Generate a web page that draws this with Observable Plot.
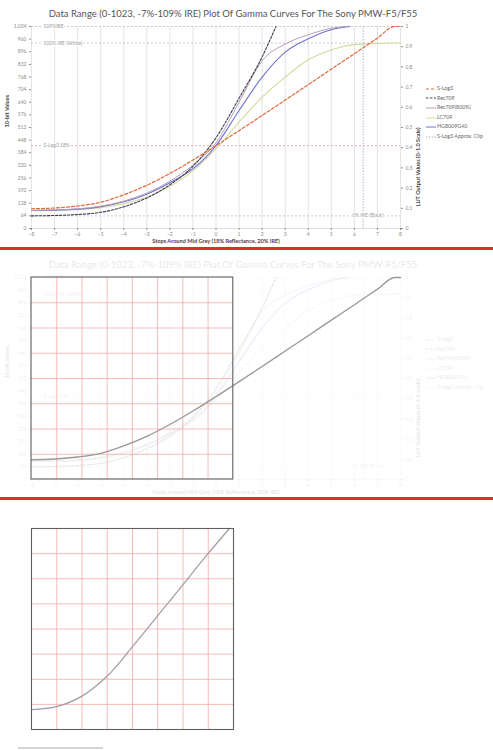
<!DOCTYPE html>
<html><head><meta charset="utf-8">
<script src="https://cdn.jsdelivr.net/npm/d3@7"></script>
<script src="https://cdn.jsdelivr.net/npm/@observablehq/plot@0.6"></script>
<style>
body{margin:0;background:#fff;width:493px;height:750px;overflow:hidden;position:relative;font-family:Lato,"DejaVu Sans",sans-serif}
.abs{position:absolute;left:0;width:493px}
.abs svg{max-width:none !important;display:block}
.sep{position:absolute;left:0;width:493px;height:3px;background:#e22a2a}
.legend{position:absolute;left:426px;top:84px;width:70px;font-size:5.3px;color:#666;line-height:9.6px}
.legend div{display:flex;align-items:center;height:9.6px;white-space:nowrap}
.legend svg{margin-right:1px;display:inline-block}
</style></head><body>
<div class="abs" style="top:0;height:1px;background:#cfcfcf"></div>
<div id="p1" class="abs" style="top:0;height:245px"></div>
<div class="sep" style="top:247px"></div>
<div id="p2" class="abs" style="top:251px;height:245px"></div>
<div class="sep" style="top:497px"></div>
<div id="p3" class="abs" style="top:500px;height:250px"></div>
<div style="position:absolute;top:747px;left:18px;width:85px;height:1.5px;background:#d4d4d4"></div>
<script>
// ---- text ----
const title = "Data Range (0-1023, -7%-109% IRE) Plot Of Gamma Curves For The Sony PMW-F5/F55";
const xLabel = "Stops Around Mid Grey (18% Reflectance, 20% IRE)";
const leftLabel = "10-bit Values";
const rightLabel = "LUT Output Values (0-1.0 Scale)";

// ---- ticks ----
const xTicks = [-8,-7,-6,-5,-4,-3,-2,-1,0,1,2,3,4,5,6,7,8];
const yTicks = [0,64,128,192,256,320,384,448,512,576,640,704,768,832,896,960,1024];
const rightTicks = [0,0.1,0.2,0.3,0.4,0.5,0.6,0.7,0.8,0.9,1];
const yMax = 1024;

// ---- series (stops around mid grey -> 10-bit code value) ----
const slog3Stops = [-8,-7,-6,-5,-4,-3,-2,-1,0,1,2,3,4,5,6,7,7.75,8];
const slog3Vals  = [100,104,114,133,171,219,279,347,420,496,573,651,729,808,886,965,1024,1024];

const rec709Stops = [-8,-7,-6,-5,-4,-3,-2,-1,0,1,2,2.6];
const rec709Vals  = [64,66,71,82,110,155,222,315,460,660,870,1024];

const rec709_800Stops = [-8,-7,-6,-5,-4,-3,-2,-1,0,1,2,3,4,5,5.6];
const rec709_800Vals  = [92,94,100,113,139,180,240,322,435,640,850,935,982,1015,1024];

const lc709Stops = [-8,-7,-6,-5,-4,-3,-2,-1,0,1,2,3,4,5,6,7,8];
const lc709Vals  = [90,92,96,106,126,158,214,292,405,539,666,767,855,905,932,938,940];

const hgStops = [-8,-7,-6,-5,-4,-3,-2,-1,0,1,2,3,4,5,5.8];
const hgVals  = [91,93,98,111,136,174,232,302,420,598,767,894,962,1008,1024];

const clipStop = 6.38;

const seriesNames  = ["S-Log3","Rec709","Rec709(800%)","LC709","HG8009G40","S-Log3 Approx. Clip"];
const seriesColors = ["#e2683c","#3a3e4c","#b79db8","#d2db9c","#6e72d2","#9fb1c8"];
const seriesDash   = ["3,2","2.4,1.6",null,null,null,"1.4,1.4"];

// ---- reference lines ----
const refValues = [1024,940,420,64];
const refLabels = ["109%IRE","100% IRE (White)","S-Log3 18%","0% IRE (Black)"];
const refColors = ["#c4c4c4","#c4c4c4","#eaa5a5","#c4c4c4"];
const refSide   = ["left","left","left","right"];

// ---- overlay box (panel 2) and LUT curve (panel 3) ----
const boxStops = [-8, 0.75];
const boxDivisions = 8;
const lutX = [0,0.125,0.25,0.375,0.5,0.625,0.75,0.875,0.98];
const lutY = [0.099,0.114,0.166,0.266,0.412,0.566,0.721,0.876,1.0];

const zip = (xs, ys) => xs.map((x,i) => ({x, y: ys[i]}));
const series = [
  zip(slog3Stops, slog3Vals),
  zip(rec709Stops, rec709Vals),
  zip(rec709_800Stops, rec709_800Vals),
  zip(lc709Stops, lc709Vals),
  zip(hgStops, hgVals)
];
const widths = [1.2,1.1,1,1.1,1.1];
const refs = refValues.map((v,i) => ({v, label: refLabels[i], color: refColors[i], side: refSide[i]}));

const W = 493, H = 245;
const base = {
  width: W, height: H,
  marginLeft: 31, marginRight: 93, marginTop: 26, marginBottom: 17,
  x: {domain: [xTicks[0], xTicks[xTicks.length-1]]},
  y: {domain: [0, yMax]},
  style: {fontFamily: "Lato, 'DejaVu Sans', sans-serif", fontSize: "5px", background: "white", overflow: "visible"}
};

function mainChart() {
  const marks = [
    Plot.ruleX(xTicks, {stroke: "#dcdcdc", strokeWidth: 0.8}),
    Plot.ruleY([0], {stroke: "#d6d6d6", strokeWidth: 0.8}),
    Plot.ruleY(refs, {y: "v", stroke: "color", strokeDasharray: "2,2", strokeWidth: 0.9}),
    Plot.ruleX([clipStop], {y1: 0, y2: yMax, stroke: seriesColors[5], strokeDasharray: seriesDash[5], strokeWidth: 1}),
    ...[3,4,2,1,0].map(k => Plot.line(series[k], {x: "x", y: "y", curve: "monotone-x",
        stroke: seriesColors[k], strokeWidth: widths[k], strokeDasharray: seriesDash[k]})),
    Plot.text(refs.filter(d => d.side === "left"), {y: "v", text: "label", frameAnchor: "left", dx: 12,
        textAnchor: "start", fill: "#999", stroke: "white", strokeWidth: 2.5, fontSize: 5}),
    Plot.text(refs.filter(d => d.side === "right"), {y: "v", text: "label", frameAnchor: "right", dx: -17,
        textAnchor: "end", fill: "#999", stroke: "white", strokeWidth: 2.5, fontSize: 5}),
    Plot.axisY({ticks: yTicks, anchor: "left", tickSize: 2, tickPadding: 3, fontSize: 5, color: "#8c8c8c", label: null}),
    Plot.axisY({ticks: rightTicks.map(v => v*yMax), anchor: "right", tickSize: 2, tickPadding: 3, fontSize: 5,
        color: "#8c8c8c", label: null, tickFormat: d => d3.format(".1~f")(d / yMax)}),
    Plot.axisX({ticks: xTicks, tickSize: 2, tickPadding: 2, fontSize: 5, color: "#8c8c8c", label: null}),
    Plot.text([title], {frameAnchor: "top", dy: -16, dx: 17, fontSize: 9.5, fill: "#555"}),
    Plot.text([xLabel], {frameAnchor: "bottom", dy: 14, fontSize: 5.6, fontWeight: "bold", fill: "#444"}),
    Plot.text([leftLabel], {frameAnchor: "left", dx: -24, rotate: -90, fontSize: 5.6, fontWeight: "bold", fill: "#444"}),
    Plot.text([rightLabel], {frameAnchor: "right", dx: 18, rotate: -90, fontSize: 5.6, fontWeight: "bold", fill: "#444"})
  ];
  const svg = Plot.plot({...base, marks});
  svg.style.maxWidth = "none";
  return svg;
}

function legend() {
  const el = document.createElement("div");
  el.className = "legend";
  seriesNames.forEach((name, i) => {
    const row = document.createElement("div");
    row.innerHTML = `<svg width="10" height="4"><line x1="0" x2="10" y1="2" y2="2" stroke="${seriesColors[i]}" stroke-width="1" ${seriesDash[i] ? `stroke-dasharray="${seriesDash[i]}"` : ""}/></svg><span>${name}</span>`;
    el.appendChild(row);
  });
  return el;
}

// Panel 1
const p1 = document.getElementById("p1");
p1.appendChild(mainChart());
p1.appendChild(legend());

// Panel 2: faded chart + overlay
const p2 = document.getElementById("p2");
const faded = document.createElement("div");
faded.style.cssText = "position:absolute;left:0;top:0;width:493px;height:245px;opacity:0.13";
faded.appendChild(mainChart());
faded.appendChild(legend());
p2.appendChild(faded);

const gx = d3.range(1, boxDivisions).map(k => boxStops[0] + (boxStops[1]-boxStops[0]) * k / boxDivisions);
const gy = d3.range(1, boxDivisions).map(k => yMax * k / boxDivisions);
const overlay = Plot.plot({...base, style: {...base.style, background: "transparent"},
  x: {...base.x, axis: null}, y: {...base.y, axis: null},
  marks: [
    Plot.ruleX(gx, {y1: 0, y2: yMax, stroke: "#f2a9a9", strokeWidth: 0.8}),
    Plot.ruleY(gy, {x1: boxStops[0], x2: boxStops[1], stroke: "#f2a9a9", strokeWidth: 0.8}),
    Plot.line(series[0], {x: "x", y: "y", curve: "monotone-x", stroke: "#9a9a9a", strokeWidth: 1.3}),
    Plot.rect([{x1: boxStops[0], x2: boxStops[1], y1: 0, y2: yMax}], {x1: "x1", x2: "x2", y1: "y1", y2: "y2",
      fill: "none", stroke: "#606060", strokeWidth: 1.1})
  ]});
overlay.style.cssText += ";position:absolute;left:0;top:0;max-width:none";
p2.appendChild(overlay);

// Panel 3: LUT space
const frac = d3.range(1, boxDivisions).map(k => k / boxDivisions);
const p3 = Plot.plot({
  width: W, height: 250, marginLeft: 31, marginRight: 260, marginTop: 28, marginBottom: 21,
  x: {domain: [0, 1], axis: null}, y: {domain: [0, 1], axis: null},
  style: {background: "white"},
  marks: [
    Plot.ruleX(frac, {stroke: "#f2a9a9", strokeWidth: 0.8}),
    Plot.ruleY(frac, {stroke: "#f2a9a9", strokeWidth: 0.8}),
    Plot.line(zip(lutX, lutY), {x: "x", y: "y", curve: "catmull-rom", stroke: "#a09ca2", strokeWidth: 1.2}),
    Plot.frame({stroke: "#606060", strokeWidth: 1.1})
  ]
});
p3.style.maxWidth = "none";
document.getElementById("p3").appendChild(p3);
</script>
</body></html>
